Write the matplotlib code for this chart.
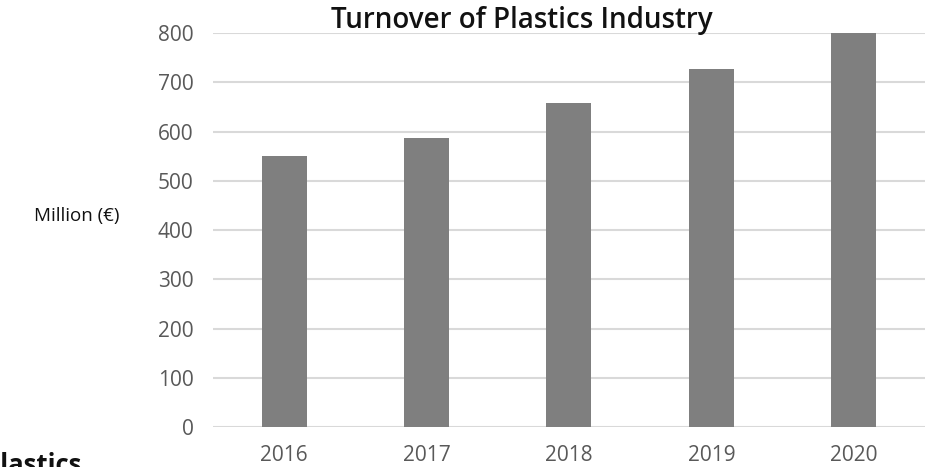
import matplotlib
matplotlib.use('Agg')
import matplotlib.pyplot as plt
import numpy as np

years = ['2016', '2017', '2018', '2019', '2020']
turnover = [550, 587, 658, 727, 800]
y_ticks = [0, 100, 200, 300, 400, 500, 600, 700, 800]

plt.rcParams['font.family'] = ['Open Sans', 'DejaVu Sans']

fig = plt.figure(figsize=(9.3, 4.67), dpi=100)
ax = fig.add_axes([0.229, 0.0857, 0.7656, 0.8433])

x = np.arange(len(years))
ax.bar(x, turnover, width=0.316, color='#7f7f7f', zorder=3)
ax.set_xlim(-0.5, len(years) - 0.5)
ax.set_ylim(0, 800)
ax.set_yticks(y_ticks)
ax.set_xticks(x)
ax.set_xticklabels(years)
ax.yaxis.grid(True, color='#d9d9d9', linewidth=1.5, zorder=0)
ax.set_axisbelow(True)
for s in ax.spines.values():
    s.set_visible(False)
ax.tick_params(length=0, labelsize=15, colors='#595959')
ax.tick_params(axis='y', pad=14)
ax.tick_params(axis='x', pad=13)

fig.text(0.561, 0.957, 'Turnover of Plastics Industry', ha='center', va='center',
         fontsize=20, fontweight='semibold', color='#111111')
fig.text(0.083, 0.537, 'Million (€)', ha='center', va='center', fontsize=13.5, color='#111111')
fig.text(-0.017, -0.012, 'Plastics', ha='left', va='baseline', fontsize=18.5,
         fontweight='bold', color='#111111')

plt.savefig('out.png')
